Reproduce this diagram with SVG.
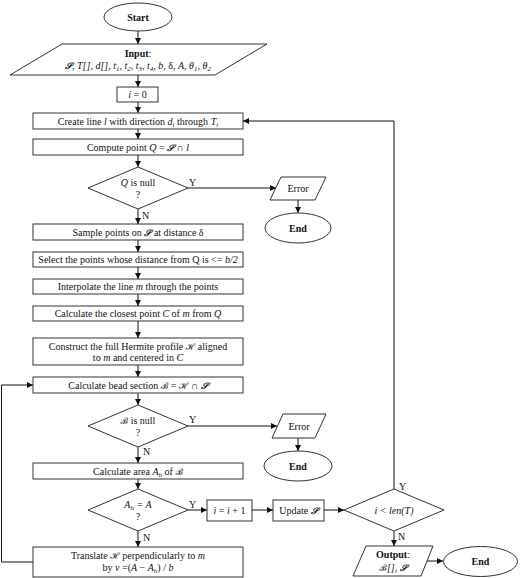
<svg xmlns="http://www.w3.org/2000/svg" width="520" height="578" viewBox="0 0 520 578">
<defs>
<marker id="ah" markerUnits="userSpaceOnUse" markerWidth="7" markerHeight="6" refX="6" refY="3" orient="auto">
<path d="M0,0 L6,3 L0,6 z" fill="#111"/>
</marker>
<style>
.s{fill:#fff;stroke:#333;stroke-width:1}
.t{font-family:"Liberation Serif","Times New Roman",serif;font-size:10px;fill:#111;text-anchor:middle}
.b{font-weight:bold}
.i{font-style:italic}
.sc{font-family:"DejaVu Serif","Noto Sans",serif;font-style:italic;font-weight:bold;font-size:9px}
.sub{font-size:7px}
.c{fill:none;stroke:#111;stroke-width:1}
.ca{fill:none;stroke:#111;stroke-width:1;marker-end:url(#ah)}
.lab{font-family:"Liberation Serif","Times New Roman",serif;font-size:10px;fill:#111}
</style>
</defs>
<rect width="520" height="578" fill="#fff"/>

<g id="connectors">
<line class="ca" x1="138" y1="31" x2="138" y2="44"/>
<line class="ca" x1="138" y1="75" x2="138" y2="87"/>
<line class="ca" x1="138" y1="102" x2="138" y2="113"/>
<line class="ca" x1="138" y1="129" x2="138" y2="139"/>
<line class="ca" x1="138" y1="155" x2="138" y2="167"/>
<line class="ca" x1="188" y1="188" x2="276" y2="188"/>
<line class="ca" x1="298" y1="200" x2="298" y2="213"/>
<line class="ca" x1="138" y1="209" x2="138" y2="224"/>
<line class="ca" x1="138" y1="240" x2="138" y2="252"/>
<line class="ca" x1="138" y1="267" x2="138" y2="279"/>
<line class="ca" x1="138" y1="294" x2="138" y2="306"/>
<line class="ca" x1="138" y1="321" x2="138" y2="338"/>
<line class="ca" x1="138" y1="365" x2="138" y2="377"/>
<line class="ca" x1="138" y1="393" x2="138" y2="405"/>
<line class="ca" x1="188" y1="426" x2="277" y2="426"/>
<line class="ca" x1="298" y1="438" x2="298" y2="451"/>
<line class="ca" x1="138" y1="447" x2="138" y2="463"/>
<line class="ca" x1="138" y1="479" x2="138" y2="489"/>
<line class="ca" x1="138" y1="531" x2="138" y2="547"/>
<line class="ca" x1="188" y1="510" x2="207" y2="510"/>
<line class="ca" x1="252" y1="510" x2="273" y2="510"/>
<line class="ca" x1="324" y1="510" x2="344" y2="510"/>
<line class="ca" x1="394" y1="531" x2="394" y2="546"/>
<line class="ca" x1="426" y1="561" x2="443" y2="561"/>
<polyline class="ca" points="33,562 1.5,562 1.5,385 33,385"/>
<polyline class="ca" points="394,489 394,121 243,121"/>
<text class="lab" x="189" y="186">Y</text>
<text class="lab" x="142" y="219">N</text>
<text class="lab" x="189" y="423">Y</text>
<text class="lab" x="143" y="455">N</text>
<text class="lab" x="189" y="508">Y</text>
<text class="lab" x="143" y="541">N</text>
<text class="lab" x="399" y="490">Y</text>
<text class="lab" x="398" y="540">N</text>
</g>

<g id="start">
<ellipse class="s" cx="138" cy="17" rx="34" ry="14"/>
<text class="t b" x="138" y="20.5">Start</text>
</g>

<g id="input">
<polygon class="s" points="62,44 267,44 215,75 10,75"/>
<text class="t" x="138" y="57"><tspan class="b">Input</tspan>:</text>
<text class="t i" x="138" y="69"><tspan class="sc">𝒮</tspan>, T[], d[], t<tspan class="sub" dy="2">1</tspan><tspan dy="-2">, t</tspan><tspan class="sub" dy="2">2</tspan><tspan dy="-2">, t</tspan><tspan class="sub" dy="2">3</tspan><tspan dy="-2">, t</tspan><tspan class="sub" dy="2">4</tspan><tspan dy="-2">, b, </tspan><tspan font-style="normal">δ</tspan>, A, θ<tspan class="sub" dy="2">1</tspan><tspan dy="-2">, θ</tspan><tspan class="sub" dy="2">2</tspan></text>
</g>

<g id="init">
<rect class="s" x="117" y="87" width="41" height="15"/>
<text class="t" x="137.5" y="98"><tspan class="i">i</tspan> = 0</text>
</g>

<g id="createline">
<rect class="s" x="33" y="113" width="210" height="16"/>
<text class="t" x="138" y="124.5">Create line <tspan class="i">l</tspan> with direction <tspan class="i">d</tspan><tspan class="sub i" dy="2">i</tspan><tspan dy="-2"> through </tspan><tspan class="i">T</tspan><tspan class="sub i" dy="2">i</tspan></text>
</g>

<g id="computeq">
<rect class="s" x="33" y="139" width="210" height="16"/>
<text class="t" x="138" y="150.5">Compute point <tspan class="i">Q</tspan> = <tspan class="sc">𝒮</tspan> ∩ <tspan class="i">l</tspan></text>
</g>

<g id="qnull">
<polygon class="s" points="138,167 188,188 138,209 88,188"/>
<text class="t" x="138" y="186"><tspan class="i">Q</tspan> is null</text>
<text class="t" x="138" y="198">?</text>
</g>

<g id="error1">
<polygon class="s" points="281,177 326,177 315,200 270,200"/>
<text class="t" x="298" y="192">Error</text>
</g>

<g id="end1">
<ellipse class="s" cx="298" cy="228" rx="33" ry="15"/>
<text class="t b" x="298" y="231.5">End</text>
</g>

<g id="sample">
<rect class="s" x="33" y="224" width="210" height="16"/>
<text class="t" x="138" y="235.5">Sample points on <tspan class="sc">𝒮</tspan> at distance δ</text>
</g>

<g id="select">
<rect class="s" x="33" y="252" width="210" height="15"/>
<text class="t" x="138" y="263">Select the points whose distance from Q is &lt;= <tspan class="i">b/2</tspan></text>
</g>

<g id="interpolate">
<rect class="s" x="33" y="279" width="210" height="15"/>
<text class="t" x="138" y="290">Interpolate the line <tspan class="i">m</tspan> through the points</text>
</g>

<g id="closest">
<rect class="s" x="33" y="306" width="210" height="15"/>
<text class="t" x="138" y="317">Calculate the closest point <tspan class="i">C</tspan> of <tspan class="i">m</tspan> from <tspan class="i">Q</tspan></text>
</g>

<g id="construct">
<rect class="s" x="33" y="338" width="210" height="27"/>
<text class="t" x="138" y="349.5">Construct the full Hermite profile <tspan class="sc">ℋ</tspan> aligned</text>
<text class="t" x="138" y="360.5">to <tspan class="i">m</tspan> and centered in <tspan class="i">C</tspan></text>
</g>

<g id="bead">
<rect class="s" x="33" y="377" width="210" height="16"/>
<text class="t" x="138" y="388.5">Calculate bead section <tspan class="sc">ℬ</tspan> = <tspan class="sc">ℋ</tspan> ∩ <tspan class="sc">𝒮</tspan></text>
</g>

<g id="bnull">
<polygon class="s" points="138,405 188,426 138,447 88,426"/>
<text class="t" x="138" y="424"><tspan class="sc">ℬ</tspan> is null</text>
<text class="t" x="138" y="436">?</text>
</g>

<g id="error2">
<polygon class="s" points="283,414 326,414 315,438 272,438"/>
<text class="t" x="299" y="429.5">Error</text>
</g>

<g id="end2">
<ellipse class="s" cx="298" cy="466" rx="34" ry="15"/>
<text class="t b" x="298" y="469.5">End</text>
</g>

<g id="area">
<rect class="s" x="33" y="463" width="210" height="16"/>
<text class="t" x="138" y="474.5">Calculate area <tspan class="i">A</tspan><tspan class="sub i" dy="2">h</tspan><tspan dy="-2"> of </tspan><tspan class="sc">ℬ</tspan></text>
</g>

<g id="areaeq">
<polygon class="s" points="138,489 188,510 138,531 88,510"/>
<text class="t i" x="138" y="508">A<tspan class="sub" dy="2">h</tspan><tspan dy="-2"> = A</tspan></text>
<text class="t" x="138" y="520">?</text>
</g>

<g id="incr">
<rect class="s" x="207" y="500" width="45" height="21"/>
<text class="t" x="229.5" y="514"><tspan class="i">i</tspan> = <tspan class="i">i</tspan> + 1</text>
</g>

<g id="update">
<rect class="s" x="273" y="500" width="51" height="21"/>
<text class="t" x="298.5" y="514">Update <tspan class="sc">𝒮</tspan></text>
</g>

<g id="loopcheck">
<polygon class="s" points="394,489 444,510 394,531 344,510"/>
<text class="t i" x="394" y="514">i &lt; len(T)</text>
</g>

<g id="translate">
<rect class="s" x="33" y="547" width="210" height="30"/>
<text class="t" x="138" y="558.5">Translate <tspan class="sc">ℋ</tspan> perpendicularly to <tspan class="i">m</tspan></text>
<text class="t" x="138" y="571">by <tspan class="i">v</tspan> =(<tspan class="i">A</tspan> − <tspan class="i">A</tspan><tspan class="sub i" dy="2">h</tspan><tspan dy="-2">) / </tspan><tspan class="i">b</tspan></text>
</g>

<g id="output">
<polygon class="s" points="366,546 433,546 421,576 353,576"/>
<text class="t" x="393" y="558"><tspan class="b">Output</tspan>:</text>
<text class="t" x="393" y="571"><tspan class="sc">ℬ</tspan><tspan class="i">[]</tspan>, <tspan class="sc">𝒮</tspan></text>
</g>

<g id="end3">
<ellipse class="s" cx="480.5" cy="561.5" rx="37" ry="15"/>
<text class="t b" x="480.5" y="565">End</text>
</g>
</svg>
